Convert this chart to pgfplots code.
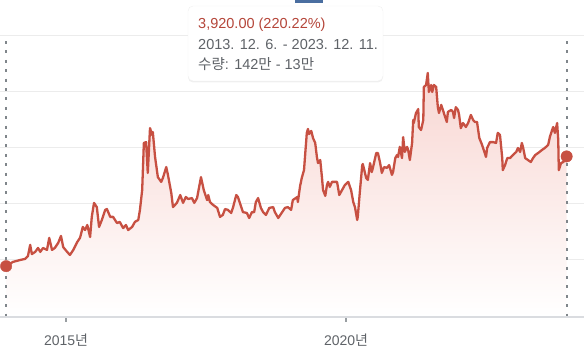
\documentclass[border=0pt]{standalone}
\usepackage{fontspec}
\usepackage{pgfplots}
\usepackage{pgfplotstable}
\pgfplotsset{compat=1.18}
\usetikzlibrary{shadows}
\setmainfont{Liberation Sans}
\newfontfamily\kr{Noto Sans CJK KR}
\definecolor{linered}{RGB}{199,80,66}
\definecolor{txtred}{RGB}{181,70,58}
\definecolor{txtgray}{RGB}{95,99,104}
\definecolor{gridgray}{RGB}{236,236,236}
\definecolor{axisgray}{RGB}{218,220,224}
\definecolor{dotgray}{RGB}{128,134,139}
\definecolor{fillred}{RGB}{248,214,210}
\definecolor{barblue}{RGB}{74,110,160}

\pgfplotstableread{
x y
2013.93 1780
2014.05 1930
2014.18 2000
2014.27 2040
2014.32 2140
2014.36 2540
2014.39 2210
2014.45 2290
2014.50 2430
2014.54 2290
2014.59 2430
2014.66 2360
2014.70 2790
2014.75 2360
2014.80 2430
2014.86 2610
2014.91 2860
2014.95 2460
2015.02 2290
2015.07 2180
2015.13 2360
2015.20 2640
2015.25 2790
2015.30 3180
2015.34 3070
2015.38 3250
2015.43 2820
2015.46 3540
2015.50 4040
2015.55 3890
2015.59 3180
2015.64 3430
2015.70 3790
2015.73 3820
2015.79 3540
2015.84 3540
2015.91 3320
2015.96 3360
2016.02 3140
2016.07 3250
2016.11 3070
2016.18 3180
2016.23 3360
2016.29 3430
2016.32 3790
2016.36 4500
2016.39 6180
2016.43 6210
2016.46 5110
2016.50 6710
2016.54 6460
2016.55 6570
2016.59 5680
2016.64 4960
2016.70 4790
2016.73 4930
2016.79 5320
2016.82 5040
2016.88 4390
2016.91 3890
2016.98 4040
2017.04 4320
2017.09 4040
2017.14 4250
2017.18 4180
2017.25 4210
2017.29 4040
2017.34 4210
2017.41 4960
2017.46 4500
2017.52 4140
2017.54 4320
2017.57 4070
2017.63 3960
2017.70 3860
2017.75 3540
2017.80 3610
2017.84 3820
2017.89 3790
2017.95 3680
2017.98 3860
2018.04 4320
2018.07 4250
2018.13 3890
2018.16 3710
2018.23 3680
2018.27 3500
2018.32 3710
2018.36 3710
2018.39 4070
2018.43 4210
2018.48 3860
2018.52 3710
2018.57 3610
2018.63 3860
2018.70 3890
2018.73 3710
2018.79 3500
2018.86 3710
2018.91 3860
2018.96 3890
2019.02 3790
2019.05 4140
2019.13 4250
2019.14 4070
2019.18 4640
2019.21 4930
2019.25 5210
2019.27 5750
2019.30 6540
2019.32 6680
2019.34 6500
2019.38 6610
2019.41 6360
2019.45 6180
2019.48 5680
2019.50 5460
2019.54 5570
2019.57 4960
2019.59 4500
2019.63 4290
2019.66 4680
2019.68 4790
2019.71 4610
2019.75 4790
2019.79 4790
2019.84 4790
2019.88 4320
2019.93 4500
2019.98 4680
2020.04 4790
2020.09 4500
2020.13 4070
2020.16 3890
2020.20 3430
2020.21 3540
2020.25 4500
2020.29 5390
2020.30 5430
2020.36 4930
2020.39 4860
2020.43 5460
2020.46 5140
2020.48 5290
2020.54 5820
2020.57 5820
2020.61 5460
2020.64 5110
2020.68 5320
2020.73 5290
2020.77 5390
2020.82 5040
2020.84 5140
2020.88 5640
2020.91 5750
2020.93 5680
2020.96 6040
2021.00 5640
2021.02 6390
2021.05 5860
2021.09 6040
2021.11 5930
2021.14 5570
2021.18 6180
2021.20 7000
2021.21 6890
2021.25 7250
2021.29 7390
2021.30 6750
2021.34 6640
2021.38 7000
2021.39 8180
2021.43 8250
2021.46 8680
2021.48 8000
2021.52 8250
2021.54 8000
2021.57 8250
2021.61 8180
2021.64 7460
2021.66 7250
2021.70 7540
2021.73 7360
2021.77 7110
2021.80 6930
2021.82 7290
2021.88 7360
2021.91 7290
2021.93 7070
2021.96 7460
2022.00 7360
2022.02 7180
2022.05 6710
2022.09 6890
2022.14 6750
2022.18 6890
2022.23 7180
2022.27 7000
2022.30 6930
2022.34 6930
2022.38 6360
2022.43 6110
2022.46 5930
2022.50 5680
2022.52 6000
2022.57 6210
2022.63 6210
2022.68 6180
2022.71 6540
2022.75 6460
2022.79 5640
2022.80 5210
2022.84 5390
2022.88 5640
2022.93 5640
2022.98 5750
2023.04 5860
2023.07 6000
2023.11 5860
2023.14 6180
2023.16 6040
2023.20 5640
2023.25 5570
2023.30 5500
2023.34 5640
2023.38 5750
2023.43 5820
2023.50 5930
2023.55 6000
2023.61 6110
2023.64 6390
2023.68 6640
2023.70 6750
2023.73 6540
2023.77 6890
2023.79 6290
2023.80 5210
2023.84 5460
2023.88 5500
2023.91 5570
2023.94 5700
}\price

\begin{document}
\begin{tikzpicture}
\begin{axis}[
  at={(0pt,0pt)}, anchor=south west,
  scale only axis, width=584pt, height=280pt,
  xmin=2013.821, xmax=2024.25, ymin=0, ymax=10000,
  axis line style={draw=none},
  clip=false,
  scaled x ticks=false, scaled y ticks=false,
  xtick={2015,2020},
  xticklabels={2015{\kr 년},2020{\kr 년}},
  xtick pos=bottom, xtick align=outside,
  major tick length=6pt,
  xtick style={draw=dotgray!80, line width=1.6pt},
  xticklabel style={font=\fontsize{14}{16}\selectfont, text=txtgray, yshift=-8pt},
  ytick={2000,4000,6000,8000,10000},
  yticklabels={,,,,,},
  ytick style={draw=none},
  ymajorgrids,
  major grid style={draw=gridgray, line width=1pt},
]
\addplot[draw=none, top color=fillred, bottom color=white] table[x=x,y=y] {\price} \closedcycle;
\addplot[axisgray, line width=1.5pt] coordinates {(2013.821,-35) (2024.25,-35)};
\addplot[dotgray, line width=2pt, dash pattern=on 3pt off 6.4pt] coordinates {(2013.93,9820) (2013.93,0)};
\addplot[dotgray, line width=2pt, dash pattern=on 3pt off 6.4pt] coordinates {(2023.94,9820) (2023.94,0)};
\addplot[linered, line width=2.3pt, line join=round] table[x=x,y=y] {\price};
\addplot[only marks, mark=*, mark size=5.7pt, linered, mark options={draw=linered, fill=linered}] coordinates {(2013.93,1780) (2023.94,5700)};
\end{axis}
\fill[barblue] (295pt,313.3pt) rectangle (323pt,317pt);
\fill[white, draw=black!6, rounded corners=5pt, drop shadow={opacity=0.12, shadow xshift=0pt, shadow yshift=-1.5pt}] (188pt,235pt) rectangle (383pt,310pt);
\node[anchor=base west, inner sep=0pt, text=txtred, font=\fontsize{14.5}{17}\selectfont] at (198pt,287pt) {3,920.00 (220.22\%)};
\node[anchor=base west, inner sep=0pt, text=txtgray, font=\fontsize{14.5}{17}\selectfont] at (198pt,266pt) {2013. 12. 6. - 2023. 12. 11.};
\node[anchor=base west, inner sep=0pt, text=txtgray, font=\fontsize{14.5}{17}\selectfont] at (198pt,246.5pt) {{\kr 수량}: 142{\kr 만} - 13{\kr 만}};
\pgfresetboundingbox
\useasboundingbox (0pt,-32pt) rectangle (584pt,316pt);
\end{tikzpicture}
\end{document}
